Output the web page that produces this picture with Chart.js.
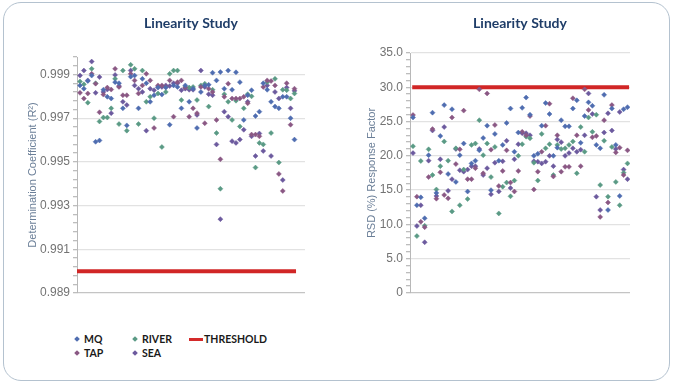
<!DOCTYPE html>
<html>
<head>
<meta charset="utf-8">
<script src="https://cdn.jsdelivr.net/npm/chart.js@4.4.1/dist/chart.umd.min.js"></script>
<style>
    body { margin: 0; background: #fff; width: 673px; height: 384px; overflow: hidden; font-family: Lato, "Open Sans", sans-serif; }
    .frame { position: absolute; left: 3px; top: 2px; width: 665px; height: 377px; border: 1.5px solid #b4c2cf; border-radius: 18px; }
    canvas { position: absolute; top: 0; }
    #r2Chart { left: 0; }
    #rsdChart { left: 340px; }
    .legend { position: absolute; left: 73px; top: 332px; display: grid; grid-template-columns: 58px 58px auto; grid-auto-rows: 14px; font: bold 10.5px Lato, sans-serif; color: #1a1a1a; }
    .legend div { display: flex; align-items: center; }
    .legend .dot { width: 4px; height: 4px; transform: rotate(45deg); margin: 0 5px 0 2px; }
    .legend .bar { width: 14px; height: 3px; background: #d42a2a; margin-right: 1px; }
</style>
</head>
<body>
<div class="frame"></div>
<canvas id="r2Chart" width="340" height="320"></canvas>
<canvas id="rsdChart" width="333" height="320"></canvas>
<div class="legend" id="legend"></div>

<script>
// --- DATOS ---
const categories = Array.from({ length: 56 }, (_, i) => `C${i + 1}`);
const seriesNames = ['MQ', 'TAP', 'RIVER', 'SEA'];
const seriesColors = ['#4f6db0', '#8a5884', '#5a9a85', '#6c5a9e'];

// Determination coefficient (R²)
const r2MQ = [0.99850, 0.99835, 0.99870, 0.99895, 0.99592, 0.99598, 0.99830, 0.99798, 0.99790, 0.99865,
    0.99860, 0.99745, 0.99667, 0.99890, 0.99895, 0.99745, 0.99880, 0.99860, 0.99775, 0.99805,
    0.99840, 0.99808, 0.99840, 0.99670, 0.99850, 0.99843, 0.99745, 0.99850, 0.99775, 0.99835,
    0.99655, 0.99820, 0.99850, 0.99853, 0.99908, 0.99873, 0.99911, 0.99835, 0.99918, 0.99830,
    0.99910, 0.99865, 0.99692, 0.99805, 0.99828, 0.99710, 0.99730, 0.99860, 0.99830, 0.99775,
    0.99753, 0.99745, 0.99798, 0.99798, 0.99700, 0.99602];
const r2TAP = [0.99816, 0.99790, 0.99813, 0.99903, 0.99858, 0.99727, 0.99808, 0.99840, 0.99831, 0.99926,
    0.99843, 0.99805, 0.99805, 0.99903, 0.99873, 0.99813, 0.99850, 0.99903, 0.99873, 0.99655,
    0.99850, 0.99850, 0.99843, 0.99873, 0.99707, 0.99865, 0.99873, 0.99840, 0.99707, 0.99745,
    0.99723, 0.99843, 0.99677, 0.99835, 0.99820, 0.99692, 0.99512, 0.99798, 0.99858, 0.99790,
    0.99790, 0.99790, 0.99798, 0.99768, 0.99625, 0.99625, 0.99617, 0.99843, 0.99873, 0.99870,
    0.99850, 0.99445, 0.99367, 0.99860, 0.99670, 0.99835];
const r2RIVER = [0.99868, 0.99855, 0.99771, 0.99926, 0.99860, 0.99685, 0.99703, 0.99703, 0.99745, 0.99880,
    0.99673, 0.99918, 0.99643, 0.99944, 0.99926, 0.99673, 0.99918, 0.99775, 0.99798, 0.99700,
    0.99813, 0.99568, 0.99820, 0.99903, 0.99918, 0.99918, 0.99783, 0.99843, 0.99840, 0.99843,
    0.99783, 0.99850, 0.99858, 0.99753, 0.99830, 0.99632, 0.99377, 0.99810, 0.99775, 0.99692,
    0.99780, 0.99662, 0.99745, 0.99810, 0.99800, 0.99474, 0.99587, 0.99580, 0.99865, 0.99632,
    0.99880, 0.99497, 0.99830, 0.99828, 0.99790, 0.99813];
const r2SEA = [0.99895, 0.99918, 0.99873, 0.99959, 0.99816, 0.99888, 0.99820, 0.99831, 0.99723, 0.99898,
    0.99847, 0.99775, 0.99760, 0.99918, 0.99850, 0.99835, 0.99820, 0.99643, 0.99835, 0.99828,
    0.99843, 0.99843, 0.99850, 0.99847, 0.99860, 0.99860, 0.99828, 0.99835, 0.99830, 0.99830,
    0.99715, 0.99918, 0.99843, 0.99810, 0.99805, 0.99580, 0.99238, 0.99730, 0.99707, 0.99595,
    0.99587, 0.99602, 0.99647, 0.99775, 0.99617, 0.99527, 0.99630, 0.99550, 0.99850, 0.99527,
    0.99820, 0.99790, 0.99417, 0.99840, 0.99745, 0.99825];

// RSD (%) response factor
const rsdMQ = [25.6, 12.8, 13.95, 10.9, 20.1, 26.3, 14.6, 22.9, 27.4, 17.35,
    26.8, 16.2, 20.1, 21.8, 14.8, 18.9, 19.3, 20.8, 22.6, 24.4,
    15.0, 23.2, 19.3, 21.6, 24.8, 26.9, 20.6, 23.4, 27.0, 28.5,
    26.0, 20.0, 20.3, 24.4, 27.7, 26.1, 20.0, 21.2, 25.2, 24.3,
    24.3, 26.9, 28.1, 21.9, 25.8, 27.8, 27.3, 21.6, 21.1, 28.9,
    12.1, 26.9, 21.6, 14.15, 26.8, 27.1];
const rsdTAP = [25.96, 14.05, 10.4, 9.6, 16.9, 23.9, 13.75, 17.6, 14.3, 13.8,
    25.6, 18.8, 20.95, 26.6, 16.6, 16.6, 18.2, 29.7, 17.45, 29.1,
    20.9, 24.5, 15.6, 17.8, 20.8, 16.1, 14.8, 17.8, 23.5, 23.0,
    25.8, 15.1, 17.7, 20.6, 24.4, 27.6, 17.0, 23.0, 17.7, 18.4,
    18.4, 28.4, 23.0, 18.5, 29.7, 26.7, 22.7, 22.9, 11.1, 25.2,
    13.2, 27.4, 20.5, 21.2, 17.2, 20.8];
const rsdRIVER = [21.4, 8.3, 19.25, 9.8, 20.95, 17.2, 15.1, 18.5, 22.1, 19.3,
    11.9, 21.1, 12.8, 18.0, 13.7, 21.6, 21.8, 25.2, 20.1, 21.8,
    16.9, 21.3, 11.6, 15.5, 16.1, 14.1, 16.4, 20.0, 21.7, 22.8,
    22.55, 19.0, 16.4, 23.2, 21.1, 21.7, 17.2, 21.6, 21.0, 21.1,
    21.6, 22.1, 17.45, 24.2, 20.6, 25.6, 23.5, 26.0, 15.75, 22.2,
    14.05, 21.3, 16.2, 12.8, 17.55, 18.9];
const rsdSEA = [20.4, 9.77, 12.8, 7.4, 19.3, 23.7, 14.15, 19.5, 24.2, 14.9,
    16.6, 21.0, 17.9, 17.7, 18.0, 18.5, 18.5, 21.0, 17.2, 18.2,
    14.4, 19.0, 14.8, 19.2, 22.2, 15.3, 19.5, 21.7, 23.3, 23.3,
    23.0, 19.2, 19.15, 18.9, 19.15, 20.0, 18.5, 22.4, 22.0, 20.0,
    20.4, 21.1, 20.6, 20.9, 23.0, 29.1, 26.1, 14.05, 12.1, 23.4,
    26.2, 23.7, 21.0, 26.4, 18.0, 16.6];

const r2Ticks = [0.989, 0.991, 0.993, 0.995, 0.997, 0.999];
const rsdTicks = [0, 5, 10, 15, 20, 25, 30, 35];
const r2Threshold = 0.990;
const rsdThreshold = 30;

// --- HELPERS ---
const toPoints = arr => categories.map((c, i) => ({ x: i, y: arr[i] }));
const isMajor = (v, majors) => majors.some(m => Math.abs(m - v) < 1e-7);

function scatterSets(arrays) {
    return arrays.map((arr, k) => ({
        type: 'scatter',
        label: seriesNames[k],
        data: toPoints(arr),
        pointStyle: 'rectRot',
        radius: 2.5,
        backgroundColor: seriesColors[k],
        borderColor: seriesColors[k],
        borderWidth: 0.5
    }));
}

function thresholdSet(value, from, to) {
    return {
        type: 'line',
        label: 'THRESHOLD',
        data: [{ x: from, y: value }, { x: to, y: value }],
        borderColor: '#d12626',
        borderWidth: 4,
        pointRadius: 0
    };
}

function buildChart(canvasId, cfg) {
    const { datasets, xMin, xMax, yMin, yMax, minorStep, majors, fmt, yTitle, axisWidth, pad, titleGap } = cfg;
    return new Chart(document.getElementById(canvasId), {
        data: { datasets },
        options: {
            responsive: false,
            animation: false,
            layout: { padding: pad },
            plugins: {
                legend: { display: false },
                tooltip: { enabled: false },
                title: {
                    display: true,
                    text: 'Linearity Study',
                    fullSize: false,
                    color: '#1f3d68',
                    font: { family: 'Lato', size: 14, weight: 'bold' },
                    padding: { top: 15, bottom: titleGap }
                }
            },
            scales: {
                x: { type: 'linear', display: false, min: xMin, max: xMax },
                y: {
                    min: yMin,
                    max: yMax,
                    afterFit: s => { s.width = axisWidth; },
                    afterBuildTicks: s => {
                        const ticks = [];
                        const n = Math.round((yMax - yMin) / minorStep);
                        for (let i = 0; i <= n; i++) ticks.push({ value: +(yMin + i * minorStep).toFixed(6) });
                        s.ticks = ticks;
                    },
                    border: { color: '#b8b8b8', width: 1 },
                    grid: {
                        color: c => !isMajor(c.tick.value, majors) ? 'rgba(0,0,0,0)' : (c.index === 0 ? '#c4c4c4' : '#e2e2e2'),
                        lineWidth: 1.3,
                        tickColor: '#bdbdbd',
                        tickLength: 4
                    },
                    ticks: {
                        autoSkip: false,
                        padding: 3,
                        color: '#737373',
                        font: { family: 'Liberation Sans', size: 12 },
                        callback: v => isMajor(v, majors) ? fmt(v) : ''
                    },
                    title: {
                        display: true,
                        text: yTitle,
                        color: '#6b7f98',
                        font: { family: 'Liberation Sans', size: 11 },
                        padding: { top: 4, bottom: 4 }
                    }
                }
            }
        }
    });
}

// --- GRÁFICOS ---
buildChart('r2Chart', {
    datasets: [...scatterSets([r2MQ, r2TAP, r2RIVER, r2SEA]), thresholdSet(r2Threshold, -0.77, 55.4)],
    xMin: -0.77, xMax: 57.7,
    yMin: 0.989, yMax: 0.9998, minorStep: 0.0004,
    majors: r2Ticks,
    fmt: v => v.toFixed(3),
    yTitle: 'Determination Coefficient (R²)',
    axisWidth: 55,
    pad: { left: 22, right: 35, top: 0, bottom: 27 },
    titleGap: 25.2
});

buildChart('rsdChart', {
    datasets: [...scatterSets([rsdMQ, rsdTAP, rsdRIVER, rsdSEA]), thresholdSet(rsdThreshold, -0.2, 55.4)],
    xMin: -0.77, xMax: 55.64,
    yMin: 0, yMax: 35, minorStep: 1,
    majors: rsdTicks,
    fmt: v => v === 0 ? '0' : v.toFixed(1),
    yTitle: 'RSD (%) Response Factor',
    axisWidth: 48.6,
    pad: { left: 21.4, right: 43, top: 0, bottom: 27 },
    titleGap: 21.2
});

// --- LEYENDA ---
const legendOrder = [0, 2, 'T', 1, 3];
document.getElementById('legend').innerHTML = legendOrder.map(k => k === 'T'
    ? '<div><span class="bar"></span>THRESHOLD</div>'
    : `<div><span class="dot" style="background:${seriesColors[k]}"></span>${seriesNames[k]}</div>`
).join('');
</script>
</body>
</html>
